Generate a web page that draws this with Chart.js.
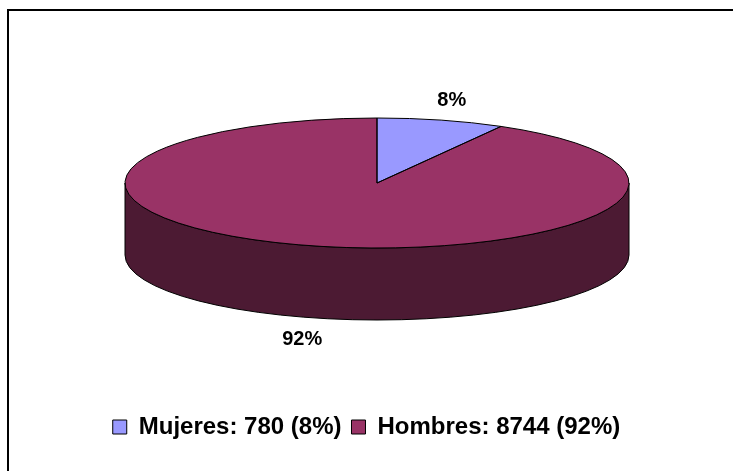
<!DOCTYPE html>
<html><head><meta charset="utf-8">
<script src="https://cdn.jsdelivr.net/npm/chart.js@4/dist/chart.umd.min.js"></script>
<style>html,body{margin:0;padding:0;background:#fff;overflow:hidden}canvas{display:block}</style>
</head><body>
<canvas id="c" width="733" height="471"></canvas>
<script>
const categories = ['Mujeres', 'Hombres'];
const values = [780, 8744];
const sliceColors = ['#9999FF', '#993366'];
const sideColors = ['#4C4C80', '#4C1A33'];

const total = values.reduce((a, b) => a + b, 0);
const pctText = v => Math.round(v / total * 100) + '%';
const FONT = '"Liberation Sans", Arial, sans-serif';

const pie3d = {
  id: 'pie3d',
  beforeDraw(chart, args, o) {
    const ctx = chart.ctx;
    ctx.save();
    ctx.fillStyle = '#fff';
    ctx.fillRect(0, 0, chart.width, chart.height);
    ctx.strokeStyle = '#000';
    ctx.lineWidth = 2;
    ctx.beginPath();
    ctx.moveTo(8, chart.height + 5);
    ctx.lineTo(8, 10);
    ctx.lineTo(chart.width + 5, 10);
    ctx.stroke();
    ctx.restore();
  },
  beforeDatasetsDraw(chart, args, o) {
    const ctx = chart.ctx;
    const meta = chart.getDatasetMeta(0);
    ctx.save();
    ctx.lineWidth = 1;
    ctx.strokeStyle = '#000';
    meta.data.forEach((el, i) => {
      const s = el.startAngle, e = el.endAngle;
      for (let k = -1; k <= 1; k++) {
        const a = Math.max(s, 2 * Math.PI * k), b = Math.min(e, Math.PI + 2 * Math.PI * k);
        if (b > a) {
          ctx.beginPath();
          ctx.ellipse(o.cx, o.cy, o.rx, o.ry, 0, a, b);
          ctx.lineTo(o.cx + o.rx * Math.cos(b), o.cy + o.depth + o.ry * Math.sin(b));
          ctx.ellipse(o.cx, o.cy + o.depth, o.rx, o.ry, 0, b, a, true);
          ctx.closePath();
          ctx.fillStyle = sideColors[i];
          ctx.fill();
          ctx.stroke();
        }
      }
    });
    ctx.restore();
    const el0 = meta.data[0];
    ctx.save();
    ctx.translate(o.cx, o.cy);
    ctx.scale(o.rx / el0.outerRadius, o.ry / el0.outerRadius);
    ctx.translate(-el0.x, -el0.y);
  },
  afterDatasetsDraw(chart, args, o) {
    const ctx = chart.ctx;
    ctx.restore();
    const meta = chart.getDatasetMeta(0);
    ctx.save();
    ctx.lineWidth = 1;
    ctx.strokeStyle = '#000';
    meta.data.forEach((el) => {
      ctx.beginPath();
      ctx.moveTo(o.cx, o.cy);
      ctx.ellipse(o.cx, o.cy, o.rx, o.ry, 0, el.startAngle, el.endAngle);
      ctx.closePath();
      ctx.stroke();
    });
    ctx.fillStyle = '#000';
    ctx.font = 'bold ' + o.labelSize + 'px ' + FONT;
    ctx.textAlign = 'center';
    ctx.textBaseline = 'middle';
    meta.data.forEach((el, i) => {
      const m = (el.startAngle + el.endAngle) / 2;
      const x = o.cx + o.lrx * Math.cos(m);
      const y = o.cy + o.lry * Math.sin(m) + (Math.sin(m) > 0 ? o.depth : 0) + 1;
      ctx.fillText(pctText(values[i]), x, y);
    });
    ctx.restore();
  }
};

new Chart(document.getElementById('c'), {
  type: 'pie',
  data: {
    labels: categories,
    datasets: [{ data: values, backgroundColor: sliceColors, borderWidth: 0, clip: false }]
  },
  options: {
    responsive: false,
    animation: false,
    devicePixelRatio: 1,
    layout: { padding: { bottom: 22 } },
    plugins: {
      tooltip: { enabled: false },
      legend: {
        position: 'bottom',
        labels: {
          boxWidth: 14, boxHeight: 14, padding: 10, color: '#000',
          font: { family: FONT, size: 24, weight: 'bold' },
          generateLabels() {
            return categories.map((c, i) => ({
              text: c + ': ' + values[i] + ' (' + pctText(values[i]) + ')',
              fillStyle: sliceColors[i], strokeStyle: '#000', lineWidth: 1,
              fontColor: '#000', hidden: false, index: i
            }));
          }
        }
      },
      pie3d: { cx: 377, cy: 183, rx: 252, ry: 65, depth: 72, lrx: 294, lry: 86, labelSize: 20 }
    }
  },
  plugins: [pie3d]
});
</script>
</body></html>
